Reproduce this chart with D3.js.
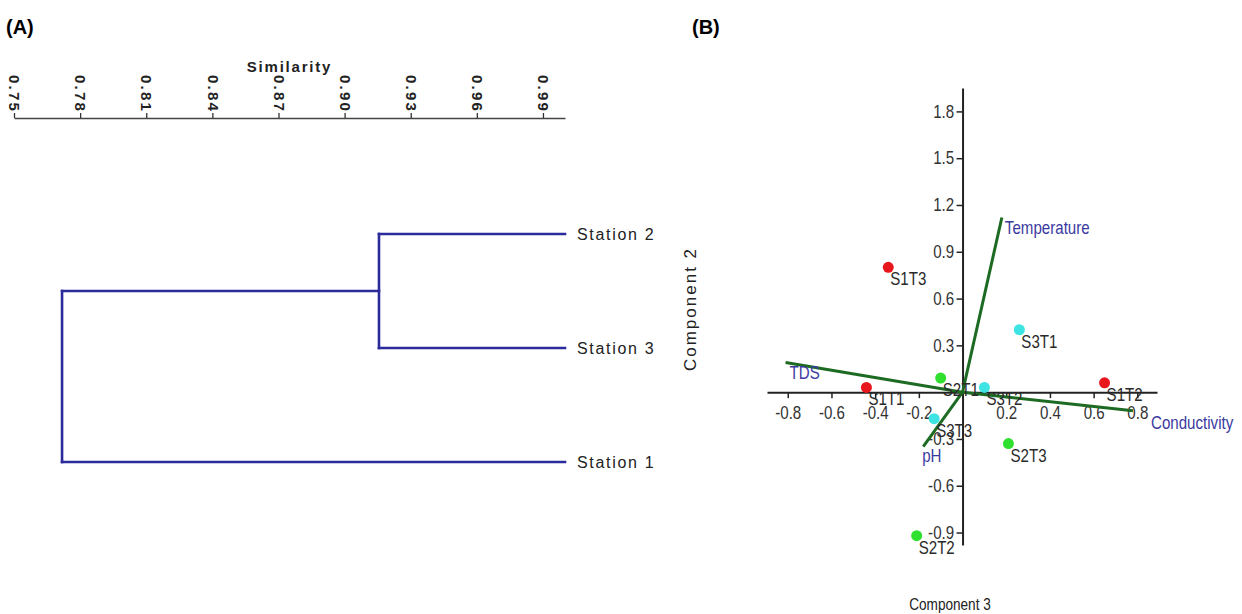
<!DOCTYPE html>
<html><head><meta charset="utf-8">
<script src="https://cdn.jsdelivr.net/npm/d3@7/dist/d3.min.js"></script>
<style>
html,body{margin:0;padding:0;background:#fff;}
svg{display:block;}
</style></head>
<body>
<svg id="chart" width="1242" height="614"></svg>
<script>
// ---------- Panel A: dendrogram data ----------
const leafNames = ["Station 2", "Station 3", "Station 1"];
const leafSimilarity = 1.0;
const mergeSimilarity = [0.9156, 0.7718];          // (Station 2 + Station 3), (cluster + Station 1)
const similarityTicks = [0.75, 0.78, 0.81, 0.84, 0.87, 0.90, 0.93, 0.96, 0.99];

// ---------- Panel B: PCA biplot data ----------
const sampleNames = ["S1T3", "S3T1", "S1T2", "S1T1", "S2T1", "S3T2", "S3T3", "S2T3", "S2T2"];
const sampleComp3 = [-0.34, 0.26, 0.65, -0.44, -0.10, 0.10, -0.13, 0.21, -0.21];
const sampleComp2 = [0.80, 0.40, 0.06, 0.03, 0.09, 0.03, -0.17, -0.33, -0.92];
const sampleGroup = ["Station 1", "Station 3", "Station 1", "Station 1", "Station 2", "Station 3", "Station 3", "Station 2", "Station 2"];
const variableNames = ["Temperature", "TDS", "Conductivity", "pH"];
const variableComp3 = [0.18, -0.81, 0.78, -0.18];
const variableComp2 = [1.12, 0.19, -0.12, -0.35];
const xTicksB = [-0.8, -0.6, -0.4, -0.2, 0.2, 0.4, 0.6, 0.8];
const yTicksB = [-0.9, -0.6, -0.3, 0.3, 0.6, 0.9, 1.2, 1.5, 1.8];

const svg = d3.select("#chart");
const sans = "'Liberation Sans',Arial,sans-serif";
const NS = 0.84;      // horizontal squeeze to imitate a narrow face
const NSIZE = 18;

function narrowLabel(parent, x, y, txt, opts = {}) {
  const size = opts.size || NSIZE, sx = opts.sx || NS;
  return parent.append("text")
    .attr("transform", `translate(${x},${y}) scale(${sx},1)`)
    .attr("text-anchor", opts.anchor || "start")
    .text(txt)
    .style("font-family", sans).style("font-size", size + "px")
    .attr("fill", opts.fill || "#2a2a2a");
}

// Panel titles
svg.append("text").attr("x", 6).attr("y", 34).text("(A)")
  .style("font-family", sans).style("font-weight", "bold").style("font-size", "20px");
svg.append("text").attr("x", 692).attr("y", 34).text("(B)")
  .style("font-family", sans).style("font-weight", "bold").style("font-size", "20px");

// ---------- Panel A ----------
const xA = d3.scaleLinear().domain([0.75, 1.0]).range([14, 565]);
const yA = d3.scalePoint().domain(leafNames).range([234, 462]);
const axisAy = 118;

const axA = svg.append("g").attr("transform", `translate(0,${axisAy})`)
  .call(d3.axisTop(xA).tickValues(similarityTicks).tickFormat(d3.format(".2f")).tickSize(5).tickSizeOuter(0));
axA.select(".domain").attr("stroke", "#444").attr("stroke-width", 1.3);
axA.selectAll(".tick line").attr("stroke", "#333").attr("stroke-width", 1.3);
axA.selectAll(".tick text")
  .attr("transform", "rotate(90)")
  .attr("x", -5).attr("y", 0).attr("dy", "0.35em")
  .attr("text-anchor", "end")
  .style("font-family", sans).style("font-weight", "bold").style("font-size", "15px")
  .style("letter-spacing", "2.2px").attr("fill", "#222");

svg.append("text").attr("x", xA(0.875)).attr("y", 72).attr("text-anchor", "middle")
  .text("Similarity")
  .style("font-family", sans).style("font-weight", "bold").style("font-size", "15px")
  .style("letter-spacing", "1.8px").attr("fill", "#222");

// dendrogram structure
const tree = {
  sim: mergeSimilarity[1],
  children: [
    { sim: mergeSimilarity[0], children: [{ name: leafNames[0] }, { name: leafNames[1] }] },
    { name: leafNames[2] }
  ]
};
const root = d3.hierarchy(tree);
root.eachAfter(n => {
  if (!n.children) { n.px = xA(leafSimilarity); n.py = yA(n.data.name); }
  else { n.px = xA(n.data.sim); n.py = d3.mean(n.children, c => c.py); }
});
const dendroColor = "#2b2b9c";
const gD = svg.append("g").attr("fill", "none").attr("stroke", dendroColor)
  .attr("stroke-width", 2.6).attr("stroke-linecap", "square");
root.each(n => {
  if (n.children) {
    const ys = n.children.map(c => c.py);
    gD.append("line").attr("x1", n.px).attr("x2", n.px).attr("y1", d3.min(ys)).attr("y2", d3.max(ys));
    n.children.forEach(c => {
      gD.append("line").attr("x1", n.px).attr("x2", c.px).attr("y1", c.py).attr("y2", c.py);
    });
  }
});
root.leaves().forEach(l => {
  svg.append("text").attr("x", l.px + 12).attr("y", l.py).attr("dy", "0.36em")
    .text(l.data.name)
    .style("font-family", sans).style("font-size", "16px").style("letter-spacing", "1.7px")
    .attr("fill", "#222");
});

// ---------- Panel B ----------
const xB = d3.scaleLinear().domain([-0.895, 0.89]).range([767, 1157]);
const yB = d3.scaleLinear().domain([-0.98, 1.95]).range([545, 88]);
const axisColor = "#222";

// x axis (through y = 0)
const axBx = svg.append("g").attr("transform", `translate(0,${yB(0)})`)
  .call(d3.axisBottom(xB).tickValues(xTicksB).tickFormat(d => d.toFixed(1)).tickSize(6).tickSizeOuter(0).tickPadding(8));
axBx.select(".domain").attr("stroke", axisColor).attr("stroke-width", 2);
axBx.selectAll(".tick line").attr("stroke", axisColor).attr("stroke-width", 1.5);
axBx.selectAll(".tick text").attr("transform", `scale(${NS},1)`)
  .style("font-family", sans).style("font-size", NSIZE + "px").attr("fill", "#333");

// y axis (through x = 0)
const axBy = svg.append("g").attr("transform", `translate(${xB(0)},0)`)
  .call(d3.axisLeft(yB).tickValues(yTicksB).tickFormat(d => d.toFixed(1)).tickSize(6).tickSizeOuter(0).tickPadding(4));
axBy.select(".domain").attr("stroke", axisColor).attr("stroke-width", 2);
axBy.selectAll(".tick line").attr("stroke", axisColor).attr("stroke-width", 1.5);
axBy.selectAll(".tick text").attr("transform", `scale(${NS},1)`)
  .style("font-family", sans).style("font-size", NSIZE + "px").attr("fill", "#333");

// axis titles
narrowLabel(svg, 950, 610, "Component 3", { anchor: "middle", size: 17, sx: 0.8, fill: "#222" });
svg.append("text").attr("transform", "translate(696,309) rotate(-90)").attr("text-anchor", "middle")
  .text("Component 2").style("font-family", sans).style("font-size", "17px")
  .style("letter-spacing", "2px").attr("fill", "#222");

// variable vectors
const vecLabelOffset = { "Temperature": [3, 17], "TDS": [4, 16], "Conductivity": [18, 18], "pH": [-1, 15] };
const gV = svg.append("g");
variableNames.forEach((name, i) => {
  gV.append("line")
    .attr("x1", xB(0)).attr("y1", yB(0))
    .attr("x2", xB(variableComp3[i])).attr("y2", yB(variableComp2[i]))
    .attr("stroke", "#1d6b22").attr("stroke-width", 3);
});

// sample points
const groupColor = d3.scaleOrdinal().domain(["Station 1", "Station 2", "Station 3"])
  .range(["#e8171e", "#2fe02f", "#3ee3e3"]);
sampleNames.forEach((name, i) => {
  svg.append("circle").attr("cx", xB(sampleComp3[i])).attr("cy", yB(sampleComp2[i]))
    .attr("r", 5.5).attr("fill", groupColor(sampleGroup[i]));
});
sampleNames.forEach((name, i) => {
  narrowLabel(svg, xB(sampleComp3[i]) + 2, yB(sampleComp2[i]) + 18, name);
});

variableNames.forEach((name, i) => {
  const off = vecLabelOffset[name];
  narrowLabel(gV, xB(variableComp3[i]) + off[0], yB(variableComp2[i]) + off[1], name, { fill: "#3a3aa0" });
});
</script>
</body></html>
